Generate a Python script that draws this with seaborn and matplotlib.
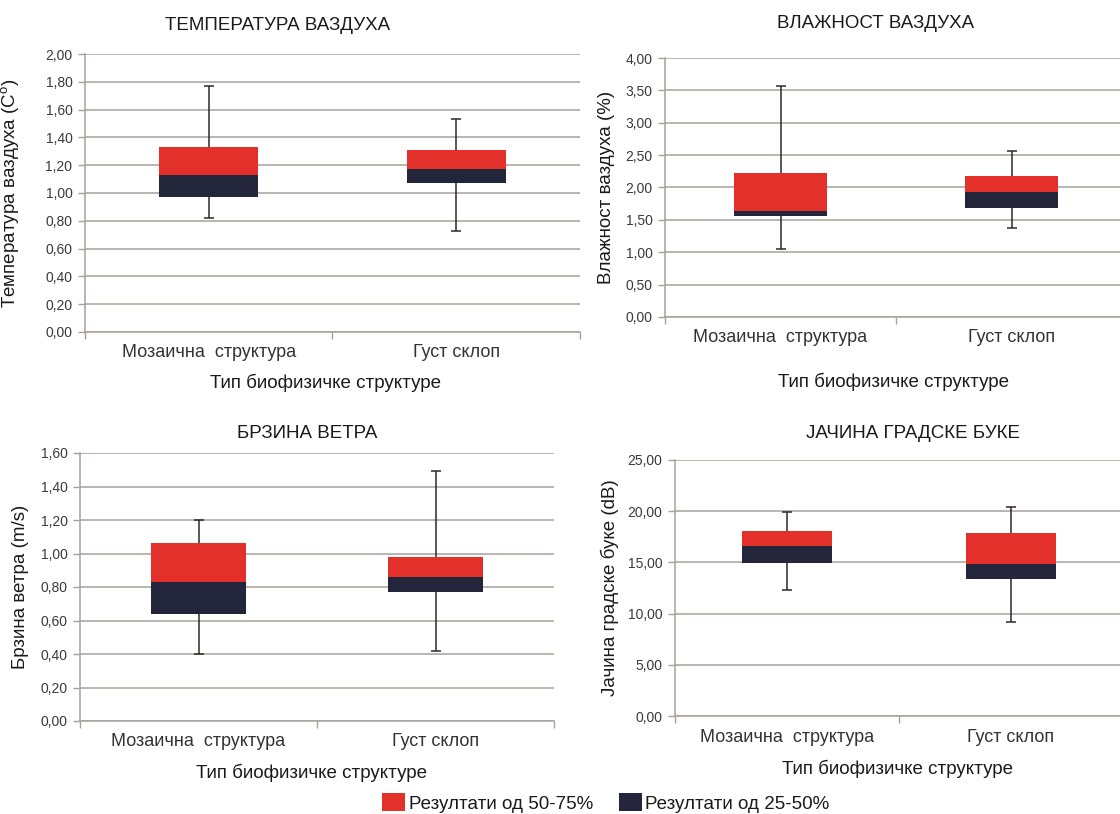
import numpy as np
import pandas as pd
import matplotlib
matplotlib.use("Agg")
import matplotlib.pyplot as plt
import seaborn as sns
from matplotlib.patches import Patch
from matplotlib.ticker import FuncFormatter, FixedLocator

# categories on the x axis (same for all four panels)
categories = ["Мозаична  структура", "Густ склоп"]

# air temperature: min, Q1, median, Q3, max
temp_min = [0.82, 0.73]
temp_q1 = [0.97, 1.07]
temp_med = [1.13, 1.17]
temp_q3 = [1.33, 1.31]
temp_max = [1.77, 1.53]

# air humidity
hum_min = [1.05, 1.37]
hum_q1 = [1.56, 1.69]
hum_med = [1.63, 1.93]
hum_q3 = [2.22, 2.17]
hum_max = [3.56, 2.57]

# wind speed
wind_min = [0.40, 0.42]
wind_q1 = [0.64, 0.77]
wind_med = [0.83, 0.86]
wind_q3 = [1.06, 0.98]
wind_max = [1.20, 1.49]

# city noise
noise_min = [12.3, 9.15]
noise_q1 = [14.95, 13.35]
noise_med = [16.6, 14.8]
noise_q3 = [18.1, 17.85]
noise_max = [19.95, 20.4]

titles = ["ТЕМПЕРАТУРА ВАЗДУХА", "ВЛАЖНОСТ ВАЗДУХА", "БРЗИНА ВЕТРА", "ЈАЧИНА ГРАДСКЕ БУКЕ"]
ylabels = ["Температура ваздуха (C$^\\mathregular{o}$)", "Влажност ваздуха (%)",
           "Брзина ветра (m/s)", "Јачина градске буке (dB)"]
xlabel = "Тип биофизичке структуре"
legend_labels = ["Резултати од 50-75%", "Резултати од 25-50%"]

y_ticks = [np.arange(0, 2.01, 0.2), np.arange(0, 4.01, 0.5),
           np.arange(0, 1.61, 0.2), np.arange(0, 25.1, 5)]

RED = "#e3302a"
DARK = "#23253a"
GRID = "#a8a09a"

sns.set_style("white")
plt.rcParams["font.family"] = ["Liberation Sans", "DejaVu Sans"]
plt.rcParams["mathtext.fontset"] = "custom"
plt.rcParams["mathtext.rm"] = "Liberation Sans"

W, H = 1120, 814
fig = plt.figure(figsize=(W / 100, H / 100), dpi=100)


def px_rect(l, t, r, b):
    return [l / W, 1 - b / H, (r - l) / W, (b - t) / H]


def fx(x):
    return x / W


def fy(y):
    return 1 - y / H


# pixel layout of the panels: axes box, title, xlabel, ylabel x position
layout = [
    dict(box=(85, 54, 580, 332), title=(278, 25), xlab=(326, 383), ylab=22),
    dict(box=(665, 58, 1127, 317), title=(876, 23), xlab=(894, 382), ylab=615),
    dict(box=(80, 453, 554, 721), title=(307, 433), xlab=(311, 773), ylab=29),
    dict(box=(675, 460, 1123, 716), title=(913, 433), xlab=(898, 769), ylab=619),
]

panels = [
    (temp_min, temp_q1, temp_med, temp_q3, temp_max),
    (hum_min, hum_q1, hum_med, hum_q3, hum_max),
    (wind_min, wind_q1, wind_med, wind_q3, wind_max),
    (noise_min, noise_q1, noise_med, noise_q3, noise_max),
]

for i, (vals, lay) in enumerate(zip(panels, layout)):
    vmin, q1, med, q3, vmax = [np.array(v) for v in vals]
    df = pd.DataFrame({"cat": categories, "q1": q1, "med": med,
                       "lower": med - q1, "upper": q3 - med})

    ax = fig.add_axes(px_rect(*lay["box"]))
    ax.set_axisbelow(True)
    ax.yaxis.grid(True, color=GRID, linewidth=1.1)

    sns.barplot(data=df, x="cat", y="lower", bottom=df["q1"].to_numpy(),
                color=DARK, saturation=1, width=0.4, errorbar=None,
                linewidth=0, ax=ax)
    sns.barplot(data=df, x="cat", y="upper", bottom=df["med"].to_numpy(),
                color=RED, saturation=1, width=0.4, errorbar=None,
                linewidth=0, ax=ax)

    pos = np.arange(len(categories))
    ax.errorbar(pos, med, yerr=[med - vmin, vmax - med], fmt="none",
                ecolor="#2a2a2a", elinewidth=1.1, capsize=3.5, capthick=1.1,
                zorder=0.9)

    ax.set_xlim(-0.5, len(categories) - 0.5)
    ticks = y_ticks[i]
    ax.set_ylim(0, ticks[-1])
    ax.yaxis.set_major_locator(FixedLocator(ticks))
    ax.yaxis.set_major_formatter(FuncFormatter(lambda v, p: f"{v:.2f}".replace(".", ",")))

    # category boundaries get small tick marks, labels sit in the middle
    ax.set_xticks(pos)
    ax.set_xticklabels(categories)
    ax.set_xticks(np.arange(len(categories) + 1) - 0.5, minor=True)
    ax.tick_params(axis="x", which="major", length=0, pad=9, labelsize=13,
                   labelcolor="#333333")
    ax.tick_params(axis="x", which="minor", length=5, width=1, color=GRID,
                   direction="out")
    ax.tick_params(axis="y", length=5, width=1, color=GRID, direction="out",
                   pad=4, labelsize=10, labelcolor="#3a3a3a")
    ax.tick_params(left=True, bottom=True, which="both")

    for side in ["top", "right"]:
        ax.spines[side].set_visible(False)
    for side in ["left", "bottom"]:
        ax.spines[side].set_color(GRID)
        ax.spines[side].set_linewidth(1.1)

    ax.set_xlabel("")
    ax.set_ylabel(ylabels[i], fontsize=13.5, color="#1a1a1a")
    ax.yaxis.set_label_coords(fx(lay["ylab"]), (fy(lay["box"][1]) + fy(lay["box"][3])) / 2,
                              transform=fig.transFigure)

    fig.text(fx(lay["title"][0]), fy(lay["title"][1]), titles[i], fontsize=13.5,
             ha="center", va="center", color="#1a1a1a")
    fig.text(fx(lay["xlab"][0]), fy(lay["xlab"][1]), xlabel, fontsize=13.5,
             ha="center", va="center", color="#1a1a1a")

handles = [Patch(facecolor=RED, edgecolor="none"), Patch(facecolor=DARK, edgecolor="none")]
fig.legend(handles, legend_labels, loc="center", bbox_to_anchor=(fx(606), fy(803)),
           ncol=2, frameon=False, fontsize=13.5, handlelength=1.2, handleheight=1.1,
           handletextpad=0.2, columnspacing=1.4, borderpad=0, labelcolor="#1a1a1a")

fig.savefig("out.png", dpi=100)
